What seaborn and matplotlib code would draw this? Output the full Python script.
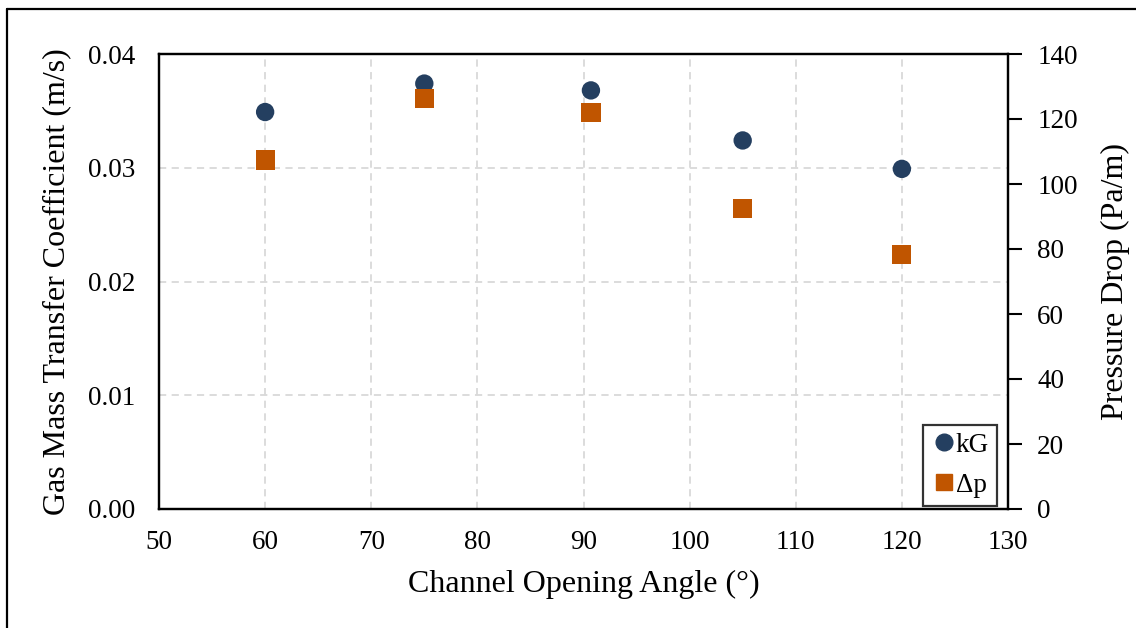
import matplotlib
matplotlib.use("Agg")
import matplotlib.pyplot as plt
import seaborn as sns
import pandas as pd
from matplotlib.lines import Line2D

# Data
angles = [60, 75, 90.7, 105, 120]
kG = [0.0349, 0.0374, 0.0368, 0.0324, 0.0299]
dp = [107.4, 126.4, 122.0, 92.5, 78.4]
x_ticks = [50, 60, 70, 80, 90, 100, 110, 120, 130]
left_ticks = [0.00, 0.01, 0.02, 0.03, 0.04]
right_ticks = [0, 20, 40, 60, 80, 100, 120, 140]

sns.set_style("white")
plt.rcParams['font.family'] = ['Liberation Serif', 'DejaVu Serif']
plt.rcParams['text.color'] = 'black'
plt.rcParams['axes.labelcolor'] = 'black'
plt.rcParams['xtick.color'] = 'black'
plt.rcParams['ytick.color'] = 'black'

df = pd.DataFrame({"angle": angles, "kG": kG, "dp": dp})

fig = plt.figure(figsize=(11.36, 6.28), dpi=100)
ax = fig.add_axes([159/1136, 1 - 509/628, (1008-159)/1136, (509-54)/628])
ax2 = ax.twinx()

navy = "#243F60"
orange = "#C05500"

sns.scatterplot(data=df, x="angle", y="kG", ax=ax, color=navy, marker="o",
                s=175, edgecolor="none", zorder=3, legend=False)
sns.scatterplot(data=df, x="angle", y="dp", ax=ax2, color=orange, marker="s",
                s=190, edgecolor="none", zorder=3, legend=False)

ax.set_xlim(50, 130)
ax.set_ylim(0, 0.04)
ax2.set_ylim(0, 140)
ax.set_xticks(x_ticks)
ax.set_yticks(left_ticks)
ax.set_yticklabels([f"{v:.2f}" for v in left_ticks])
ax2.set_yticks(right_ticks)

ax.grid(True, color="#D9D9D9", linestyle=(0, (4, 3)), linewidth=1.3)
ax.set_axisbelow(True)

for a in (ax, ax2):
    for s in a.spines.values():
        s.set_color("black")
        s.set_linewidth(1.6)

ax.tick_params(axis="both", which="both", length=0, labelsize=19.5, pad=17, colors="black")
ax.tick_params(axis="x", pad=15)
ax2.tick_params(axis="y", length=10, width=1.5, labelsize=19.5, pad=11, colors="black")

ax.set_xlabel("Channel Opening Angle (°)", fontsize=23, labelpad=11)
ax.set_ylabel("Gas Mass Transfer Coefficient (m/s)", fontsize=23, labelpad=12)
ax2.set_ylabel("Pressure Drop (Pa/m)", fontsize=23, labelpad=17)

handles = [
    Line2D([0], [0], marker="o", linestyle="none", color=navy, markersize=12, label="kG"),
    Line2D([0], [0], marker="s", linestyle="none", color=orange, markersize=12, label="Δp"),
]
leg = ax2.legend(handles=handles, loc="lower right", bbox_to_anchor=(0.987, 0.0066),
                 fontsize=19.5, frameon=True, fancybox=False, edgecolor="black",
                 handletextpad=-0.05, handlelength=0.95, labelspacing=0.55,
                 borderpad=0.3, borderaxespad=0.0)
leg.get_frame().set_linewidth(1.6)

# outer frame (left and top edges visible)
fig.add_artist(Line2D([7/1136, 7/1136], [0, 1 - 9/628], color="black", lw=1.6,
                      transform=fig.transFigure))
fig.add_artist(Line2D([7/1136, 1], [1 - 9/628, 1 - 9/628], color="black", lw=1.6,
                      transform=fig.transFigure))

fig.savefig("out.png", dpi=100)
